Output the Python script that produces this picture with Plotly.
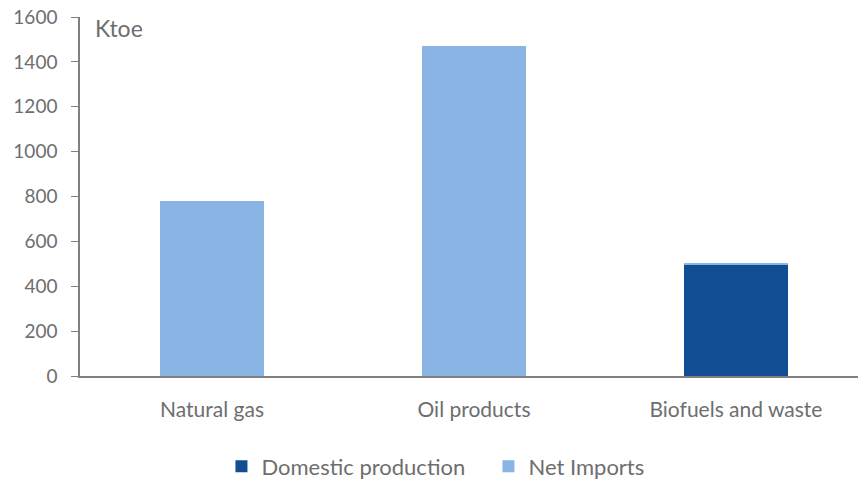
import plotly.graph_objects as go

categories = ["Natural gas", "Oil products", "Biofuels and waste"]
domestic_production = [0, 0, 497]
net_imports = [780, 1470, 6]

y_ticks = [0, 200, 400, 600, 800, 1000, 1200, 1400, 1600]

GREY = "#808080"
TEXT = "#6E6E6E"
FONT = "Lato"

fig = go.Figure()
fig.add_trace(go.Bar(
    x=categories, y=domestic_production, name="Domestic production",
    marker=dict(color="#114D93", line=dict(width=0)),
))
fig.add_trace(go.Bar(
    x=categories, y=net_imports, name="Net Imports",
    marker=dict(color="#8AB4E3", line=dict(width=0)),
))

fig.update_layout(
    width=858, height=479,
    barmode="stack", bargap=0.6,
    plot_bgcolor="white", paper_bgcolor="white",
    margin=dict(l=80, r=0, t=17, b=103, autoexpand=False),
    font=dict(family=FONT, size=20, color=TEXT),
    showlegend=True,
    legend=dict(
        orientation="h", x=0.525, xanchor="center",
        yref="container", y=0.026, yanchor="middle",
        font=dict(family=FONT, size=22, color=TEXT),
        itemsizing="constant", traceorder="normal", entrywidth=222,
    ),
    annotations=[dict(
        text="Ktoe", xref="paper", yref="paper", x=0.017, y=0.97,
        xanchor="left", yanchor="middle", showarrow=False,
        font=dict(family=FONT, size=23, color=TEXT),
    )],
)
fig.update_xaxes(
    range=[-0.504, 2.466], showline=True, linecolor=GREY, linewidth=1.5,
    ticks="", showgrid=False, tickfont=dict(size=21, color=TEXT),
    ticklabelstandoff=14, automargin=False,
)
fig.update_yaxes(
    range=[0, 1600], tickvals=y_ticks, showline=True, linecolor=GREY,
    linewidth=1.5, ticks="outside", ticklen=7, tickcolor=GREY,
    showgrid=False, zeroline=False, tickfont=dict(size=19, color=TEXT),
    ticklabelstandoff=10, automargin=False,
)

fig.write_html("out.html")
